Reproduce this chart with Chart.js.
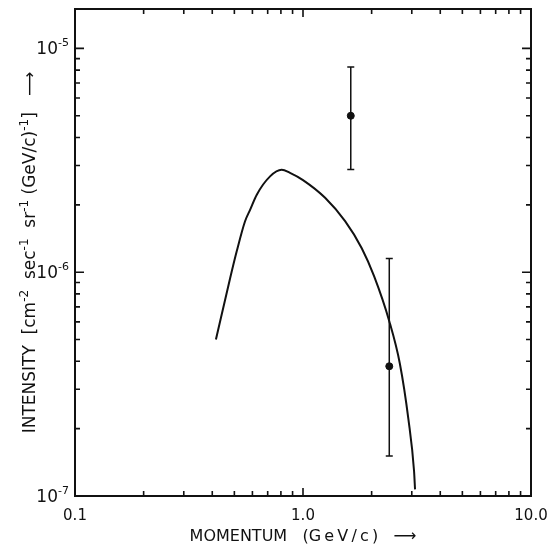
<!DOCTYPE html>
<html>
<head>
<meta charset="utf-8">
<script src="https://cdn.jsdelivr.net/npm/chart.js@4.4.1/dist/chart.umd.min.js"></script>
<style>
  html, body { margin: 0; background: #fff; }
  #wrap { width: 550px; height: 550px; }
</style>
</head>
<body>
<div id="wrap"><canvas id="spectrum"></canvas></div>
<script>
// calculated spectrum (momentum in GeV/c, intensity)
const curveP = [0.415, 0.479, 0.512, 0.557, 0.586, 0.627, 0.717, 0.806, 0.877, 1.0, 1.25, 1.53, 1.81, 2.05, 2.39, 2.66, 2.90, 3.07, 3.10];
const curveI = [5.0e-7, 9.4e-7, 1.24e-6, 1.69e-6, 1.9e-6, 2.22e-6, 2.68e-6, 2.87e-6, 2.78e-6, 2.58e-6, 2.15e-6, 1.69e-6, 1.28e-6, 9.6e-7, 6.04e-7, 3.9e-7, 2.2e-7, 1.29e-7, 1.07e-7];

// measured points with error bars
const pointP = [1.62, 2.39];
const pointI = [5.0e-6, 3.8e-7];
const errLow = [2.88e-6, 1.51e-7];
const errHigh = [8.25e-6, 1.15e-6];

// axis ticks
const xTicks = [0.1, 1, 10];
const xTickLabels = ['0.1', '1.0', '10.0'];
const yTicks = [1e-7, 1e-6, 1e-5];
const yTickExp = ['-7', '-6', '-5'];

const INK = '#111';
const FONT = "'DejaVu Sans', sans-serif";

// y title pieces: [text, superscript?]
const yTitleParts = [
  ['INTENSITY  [cm', false], ['-2', true], ['  sec', false], ['-1', true],
  ['  sr', false], ['-1', true], [' (GeV/c)', false], ['-1', true], [']   ⟶', false]
];

// frame, inward ticks, error bars, y labels and title
const framePlugin = {
  id: 'frame',
  afterDatasetsDraw(chart) {
    const { ctx, chartArea: a, scales } = chart;
    const xs = scales.x, ys = scales.y;
    ctx.save();
    ctx.strokeStyle = INK;
    ctx.fillStyle = INK;
    ctx.lineWidth = 2;
    ctx.strokeRect(a.left, a.top, a.right - a.left, a.bottom - a.top);

    ctx.lineWidth = 1.6;
    // x ticks (bottom and top)
    for (let d = -1; d <= 0; d++) {
      for (let m = 1; m <= 9; m++) {
        const px = xs.getPixelForValue(m * Math.pow(10, d));
        if (px < a.left - 0.5 || px > a.right + 0.5) continue;
        const len = m === 1 ? 8 : 5;
        ctx.beginPath();
        ctx.moveTo(px, a.bottom); ctx.lineTo(px, a.bottom - len);
        ctx.moveTo(px, a.top); ctx.lineTo(px, a.top + len);
        ctx.stroke();
      }
    }
    // y ticks (left and right)
    for (let d = -7; d <= -5; d++) {
      for (let m = 1; m <= 9; m++) {
        const py = ys.getPixelForValue(m * Math.pow(10, d));
        if (py < a.top - 0.5 || py > a.bottom + 0.5) continue;
        const len = m === 1 ? 9 : 5;
        ctx.beginPath();
        ctx.moveTo(a.left, py); ctx.lineTo(a.left + len, py);
        ctx.moveTo(a.right, py); ctx.lineTo(a.right - len, py);
        ctx.stroke();
      }
    }

    // error bars
    ctx.lineWidth = 1.5;
    pointP.forEach((p, i) => {
      const px = xs.getPixelForValue(p);
      const y1 = ys.getPixelForValue(errLow[i]);
      const y2 = ys.getPixelForValue(errHigh[i]);
      ctx.beginPath();
      ctx.moveTo(px, y1); ctx.lineTo(px, y2);
      ctx.moveTo(px - 3.5, y1); ctx.lineTo(px + 3.5, y1);
      ctx.moveTo(px - 3.5, y2); ctx.lineTo(px + 3.5, y2);
      ctx.stroke();
    });

    // y tick labels: 10 with superscript exponent
    ctx.textBaseline = 'alphabetic';
    yTicks.forEach((v, i) => {
      const py = ys.getPixelForValue(v);
      ctx.font = `17px ${FONT}`;
      ctx.textAlign = 'right';
      ctx.fillText('10', 58, py + 6);
      ctx.font = `11px ${FONT}`;
      ctx.textAlign = 'left';
      ctx.fillText(yTickExp[i], 58, py - 2);
    });

    // rotated y title
    ctx.save();
    const cy = (a.top + a.bottom) / 2;
    ctx.translate(29, cy);
    ctx.rotate(-Math.PI / 2);
    let total = 0;
    yTitleParts.forEach(([t, sup]) => {
      ctx.font = sup ? `12px ${FONT}` : `17px ${FONT}`;
      total += ctx.measureText(t).width;
    });
    let x = -total / 2;
    ctx.textAlign = 'left';
    yTitleParts.forEach(([t, sup]) => {
      ctx.font = sup ? `12px ${FONT}` : `17px ${FONT}`;
      ctx.fillText(t, x, sup ? -1 : 6);
      x += ctx.measureText(t).width;
    });
    ctx.restore();

    ctx.restore();
  }
};

const ctx = document.getElementById('spectrum').getContext('2d');
new Chart(ctx, {
  type: 'scatter',
  data: {
    datasets: [
      {
        label: 'calculated',
        data: curveP.map((p, i) => ({ x: p, y: curveI[i] })),
        showLine: true,
        borderColor: INK,
        borderWidth: 2,
        pointRadius: 0,
        cubicInterpolationMode: 'monotone'
      },
      {
        label: 'measured',
        data: pointP.map((p, i) => ({ x: p, y: pointI[i] })),
        pointRadius: 3.5,
        backgroundColor: INK,
        borderColor: INK
      }
    ]
  },
  options: {
    responsive: true,
    maintainAspectRatio: false,
    animation: false,
    layout: { padding: { top: 9, right: 19, left: 0, bottom: 0 } },
    plugins: {
      legend: { display: false },
      tooltip: { enabled: false }
    },
    scales: {
      x: {
        type: 'logarithmic',
        min: 0.1,
        max: 10,
        grid: { display: false },
        border: { display: false },
        afterBuildTicks: (s) => { s.ticks = xTicks.map(v => ({ value: v })); },
        afterFit: (s) => { s.height = 54; s.paddingLeft = 0; s.paddingRight = 0; },
        ticks: {
          color: INK,
          padding: 3,
          maxRotation: 0,
          font: { family: FONT, size: 15 },
          callback: (v) => xTickLabels[xTicks.indexOf(v)] ?? ''
        },
        title: {
          display: true,
          text: 'MOMENTUM   (G\u2009e\u2009V\u2009/\u2009c\u2009)   ⟶',
          color: INK,
          padding: { top: 0 },
          font: { family: FONT, size: 16 }
        }
      },
      y: {
        type: 'logarithmic',
        min: 1e-7,
        max: 1.5e-5,
        grid: { display: false },
        border: { display: false },
        afterBuildTicks: (s) => { s.ticks = yTicks.map(v => ({ value: v })); },
        afterFit: (s) => { s.width = 75; s.paddingTop = 0; s.paddingBottom = 0; },
        ticks: { display: false },
        title: { display: false }
      }
    }
  },
  plugins: [framePlugin]
});
</script>
</body>
</html>
